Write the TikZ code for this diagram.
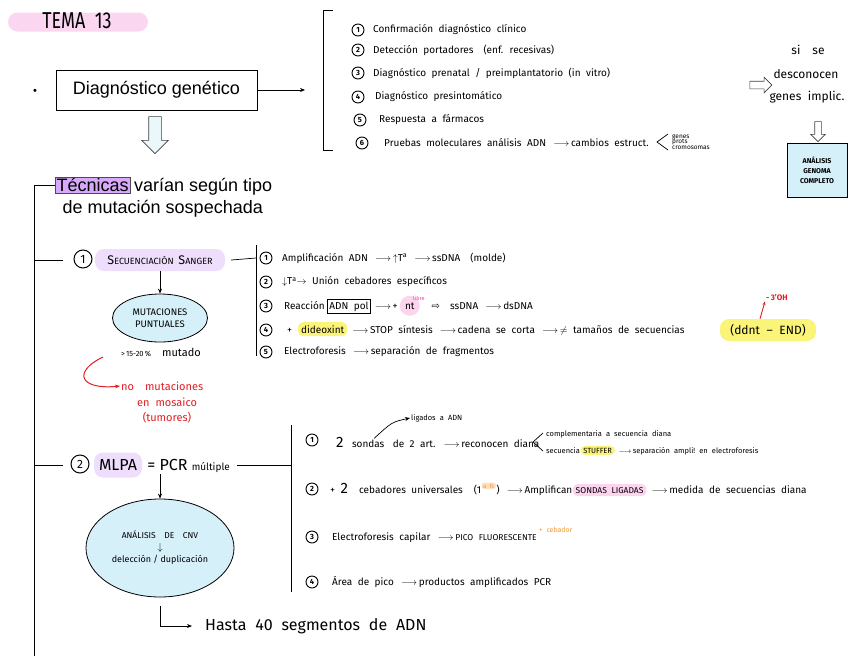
\documentclass[tikz,border=0pt]{standalone}
\usepackage{fontspec}
\setmainfont{Fira Sans}
\newfontfamily\typed{Liberation Sans}
\newfontfamily\sym{DejaVu Sans}
\usetikzlibrary{shapes.geometric,shapes.arrows,arrows.meta}
\definecolor{temapink}{RGB}{250,214,240}
\definecolor{lila}{RGB}{216,168,250}
\definecolor{lav}{RGB}{238,222,252}
\definecolor{lblue}{RGB}{214,240,250}
\definecolor{hlyellow}{RGB}{250,244,120}
\definecolor{hlpink}{RGB}{252,212,238}
\definecolor{hlorange}{RGB}{253,224,196}
\definecolor{nred}{RGB}{225,30,35}
\definecolor{norange}{RGB}{245,150,40}
\definecolor{npink}{RGB}{240,60,180}
\newcommand\hws[1]{\fontsize{#1}{#1}\selectfont\spaceskip=0.55em plus 0.2em minus 0.1em\relax}
\newcommand\hw{\hws{10}}
\newcommand\ra{\,$\longrightarrow$\,}
\begin{document}
\begin{tikzpicture}[x=1pt,y=-1pt,
  hw/.style={font=\hw, inner sep=1pt},
  ch/.style={anchor=base west, inner xsep=0pt, inner ysep=1pt, font=\hw},
  num/.style={circle, draw, line width=0.9pt, inner sep=0pt, minimum size=12, font=\fontsize{7.5}{7.5}\selectfont\bfseries},
  bignum/.style={circle, draw, line width=1pt, inner sep=0pt, minimum size=18, font=\fontsize{12}{12}\selectfont},
  ty/.style={font=\typed\fontsize{18}{21}\selectfont},
  hl/.style={ch, rounded corners=5pt, inner xsep=3pt, inner ysep=3pt},
  hollow/.style={single arrow, draw=black!75, line width=0.6pt},
  conn/.style={line width=0.7pt},
  conarrow/.style={conn, -{Stealth[length=5pt,width=4pt]}},
]
\useasboundingbox (0,0) rectangle (848,656);
% title
\node[fill=temapink, rounded corners=9.5pt, minimum width=140, minimum height=19, inner sep=0pt] (temabg) at (78,22) {};
\node[inner sep=0pt, font=\fontsize{23}{23}\selectfont] (tema) at (77,21) {\scalebox{0.78}[1]{TEMA\ \ 13}};
% diagnostico
\node[font=\typed\fontsize{11}{11}\selectfont, inner sep=0pt] (bul) at (35,92) {•};
\node[draw, line width=0.9pt, minimum width=201, minimum height=40, ty] (dg) at (156.5,90) {Diagnóstico genético};
\coordinate (dgend) at (305,90);
\draw[conarrow] (dg.east) -- (dgend);
\node[hollow, fill=lblue!50, shape border rotate=270, minimum height=37, inner sep=6pt, single arrow head extend=7pt] (dgarrow) at (155,132) {};
% bracket 1
\coordinate (b1a) at (333,10); \coordinate (b1b) at (333,150);
\draw[conn] (b1a) -- (323,10) -- (323,150) -- (b1b);
\node[num] (u1) at (358,30) {1};
\node[hw, anchor=west] (v1) at (372,30) {Confirmación diagnóstico clínico};
\node[num] (u2) at (358,50) {2};
\node[hw, anchor=west] (v2) at (372,50) {Detección portadores\quad(enf. recesivas)};
\node[num] (u3) at (358,73) {3};
\node[hw, anchor=west] (v3) at (372,73) {Diagnóstico prenatal / preimplantatorio (in vitro)};
\node[num] (u4) at (358,97) {4};
\node[hw, anchor=west] (v4) at (374,97) {Diagnóstico presintomático};
\node[num] (u5) at (360,120) {5};
\node[hw, anchor=west] (v5) at (378,120) {Respuesta a fármacos};
\node[num] (u6) at (362,143) {6};
\node[hw, anchor=west] (v6) at (383,143) {Pruebas moleculares análisis ADN \ra cambios estruct.};
\node[anchor=west, inner sep=0pt, align=left, font=\hws{6.5}] (gpc) at (672,142) {genes\\[-1pt]prots\\[-1pt]cromosomas};
\coordinate (ga) at (668,134); \coordinate (gb) at (657,142); \coordinate (gc) at (668,150);
\draw[conn] (ga) -- (gb) -- (gc);
% right side
\node[font=\hws{12}, inner sep=1pt] (si) at (808,50) {si\quad se};
\node[font=\hws{12}, inner sep=1pt] (desc) at (806,74) {desconocen};
\node[font=\hws{12}, inner sep=1pt] (gimp) at (807,97) {genes implic.};
\node[hollow, minimum height=22, inner sep=3.5pt, single arrow head extend=4pt] (rar) at (759,85) {};
\node[hollow, shape border rotate=270, minimum height=20, inner sep=3pt, single arrow head extend=4pt] (dar) at (818,130) {};
\node[draw, line width=0.8pt, fill=lblue, minimum width=60, minimum height=54, align=center, font=\fontsize{7}{10}\selectfont\bfseries] (agc) at (817,170) {ANÁLISIS\\GENOMA\\COMPLETO};
% tecnicas
\node[ty, fill=lila, draw=black!70, inner sep=1.5pt, anchor=west] (tec) at (55,185) {Técnicas};
\node[ty, inner sep=1.5pt, anchor=base west] (tec2) at ([xshift=2]tec.base east) {varían según tipo};
\node[ty, inner sep=1.5pt, anchor=west] (tec3) at (61,209) {de mutación sospechada};
\coordinate (lb) at (34,656);
\draw[conn] (tec.west) -| (lb);
% Sanger
\coordinate (s0) at (34,260); \coordinate (s1) at (63,260);
\draw[conn] (s0) -- (s1);
\node[bignum] (c1) at (83,259) {1};
\node[fill=lav, rounded corners=9pt, minimum width=130, minimum height=22, inner sep=0pt] (sanger) at (160,260) {\fontsize{12.5}{12}\selectfont S\fontsize{9}{9}\selectfont ECUENCIACIÓN\ \ \fontsize{12.5}{12}\selectfont S\fontsize{9}{9}\selectfont ANGER};
\coordinate (sbm) at (256,258);
\draw[conn] ([xshift=6]sanger.east) -- (sbm);
\coordinate (sbt) at (256,245); \coordinate (sbb) at (256,356);
\draw[conn] (sbt) -- (sbb);
\node[ellipse, draw, line width=0.8pt, fill=lblue, minimum width=95, minimum height=48, align=center, inner sep=0pt, font=\fontsize{9.5}{11.5}\selectfont] (mp) at (160,318) {MUTACIONES\\PUNTUALES};
\draw[conarrow] (sanger.south) -- (mp.north);
\node[font=\hws{11}, inner sep=1pt] (mut) at (161,352) {{\fontsize{7.5}{8}\selectfont >\,15-20\,\%}\quad mutado};
\node[font=\hws{11}, text=nred, anchor=west, inner sep=1pt] (nm1) at (120,386) {no\quad mutaciones};
\node[font=\hws{11}, text=nred, align=center, inner sep=1pt] (nm2) at (167,411) {en mosaico\\[4pt](tumores)};
\coordinate (rc) at (103,357);
\draw[nred, line width=1pt, -{Stealth[length=5pt]}] (rc) .. controls (72,372) and (80,390) .. (nm1.west);
% Sanger list
\node[num] (sn1) at (266,258) {1};
\node[hw, anchor=west] (st1) at (281,258) {Amplificación ADN \ra $\uparrow$T\textsuperscript{a} \ra ssDNA\quad(molde)};
\node[num] (sn2) at (266,282) {2};
\node[hw, anchor=west] (st2) at (281,282) {$\downarrow$T\textsuperscript{a}$\rightarrow$ Unión cebadores específicos};
\node[num] (sn3) at (266,306) {3};
\node[ch] (s3a) at (284,309) {Reacción\ };
\node[ch, draw, line width=0.9pt, inner xsep=2pt, inner ysep=2pt] (s3b) at ([xshift=2]s3a.base east) {ADN pol};
\node[ch] (s3c) at ([xshift=2]s3b.base east) {\ra+\,};
\node[ch, circle, fill=hlpink, inner sep=1pt, minimum size=20] (s3d) at (s3c.base east) {nt};
\node[font=\hws{5.5}, text=npink, inner sep=0pt, anchor=west] (s3s) at ([xshift=-4]s3d.north east) {libre};
\node[ch] (s3e) at ([xshift=6]s3d.base east) {\ {\sym ⇨}\quad ssDNA \ra dsDNA};
\node[num] (sn4) at (266,330) {4};
\node[ch] (s4a) at (287,333) {+\ \ };
\node[hl, fill=hlyellow] (s4b) at (s4a.base east) {dideoxint};
\node[ch] (s4c) at ([xshift=3]s4b.base east) {\ra STOP síntesis \ra cadena se corta \ra $\neq$ tamaños de secuencias};
\node[fill=hlyellow, rounded corners=9pt, minimum width=96, minimum height=22, inner sep=2pt, font=\hws{12}] (dd) at (768,330) {(ddnt -- END)};
\node[font=\hws{8}\bfseries, text=nred, inner sep=1pt] (oh) at (777,297) {-\,3'OH};
\draw[nred, line width=0.9pt, -{Stealth[length=4pt]}] ([xshift=-8]dd.north) .. controls (762,312) .. (oh.south west);
\node[num] (sn5) at (266,352) {5};
\node[hw, anchor=west] (st5) at (283,352) {Electroforesis \ra separación de fragmentos};
% MLPA
\coordinate (m0) at (34,465); \coordinate (m1) at (63,465);
\draw[conn] (m0) -- (m1);
\node[bignum] (c2) at (80,464) {2};
\node[fill=lav, rounded corners=9pt, minimum width=48, minimum height=25, inner sep=1pt, font=\fontsize{16}{16}\selectfont] (mlpa) at (118,465) {MLPA};
\node[anchor=base west, inner sep=1pt, font=\fontsize{16}{16}\selectfont] (pcr) at ([xshift=4]mlpa.base east) {= PCR {\fontsize{10}{10}\selectfont múltiple}};
\coordinate (mbm) at (291,465);
\coordinate (mpe) at (pcr.east |- mbm);
\draw[conn] (mpe) ++(6,0) -- (mbm);
\coordinate (mbt) at (291,425); \coordinate (mbb) at (291,592);
\draw[conn] (mbt) -- (mbb);
\node[ellipse, draw, line width=0.8pt, fill=lblue, minimum width=148, minimum height=98, align=center, inner sep=0pt] (cnv) at (160,548) {{\fontsize{8.5}{10}\selectfont ANÁLISIS\quad DE\quad CNV}\\$\downarrow$\\{\fontsize{9}{10}\selectfont delección / duplicación}};
\draw[conarrow] (pcr.south -| cnv.north) -- (cnv.north);
\node[anchor=west, inner sep=1pt, font=\hws{16}] (hasta) at (204,626) {Hasta 40 segmentos de ADN};
\coordinate (h0) at (160,606);
\draw[conarrow] (h0) |- ([xshift=-12]hasta.west);
% MLPA list
\node[num] (mn1) at (312,440) {1};
\node[ch, font=\hws{15}] (m1a) at (336,447) {2};
\node[ch] (m1b) at ([xshift=8]m1a.base east) {sondas};
\node[ch] (m1c) at ([xshift=8]m1b.base east) {de 2 art. \ra reconocen diana};
\node[anchor=west, inner sep=1pt, font=\hws{7.5}] (lig) at (410,418) {ligados a ADN};
\draw[conarrow] ([xshift=6]m1b.north) .. controls (392,422) .. (lig.west);
\node[ch, font=\hws{7.5}] (comp) at (546,436) {complementaria a secuencia diana};
\node[ch, font=\hws{7.5}] (sq) at (546,453) {secuencia\ };
\node[hl, fill=hlyellow, font=\hws{7.5}, inner ysep=2pt] (stf) at (sq.base east) {STUFFER};
\node[ch, font=\hws{7.5}] (sep) at ([xshift=2]stf.base east) {\ra separación ampli!\ en electroforesis};
\coordinate (la) at (543,433); \coordinate (lm) at (533,442); \coordinate (lc) at (543,451);
\draw[conn] (la) -- (lm) -- (lc);
\node[num] (mn2) at (312,489) {2};
\node[ch] (m2a) at (330,493) {+ {\fontsize{15}{15}\selectfont 2}\ \ cebadores universales\ \ (1};
\node[ch, fill=hlorange, text=norange, rounded corners=3pt, inner xsep=1.5pt, inner ysep=1pt, font=\hws{6}] (m2b) at ([yshift=5]m2a.base east) {a fc};
\node[ch] (m2c) at ([yshift=-5]m2b.base east) {)\ \ra Amplifican\ };
\node[hl, fill=hlpink, font=\hws{8.5}] (m2d) at (m2c.base east) {SONDAS LIGADAS};
\node[ch] (m2e) at ([xshift=3]m2d.base east) {\ra medida de secuencias diana};
\node[num] (mn3) at (312,537) {3};
\node[ch] (m3a) at (332,540) {Electroforesis capilar \ra {\fontsize{8.5}{9}\selectfont PICO FLUORESCENTE}};
\node[ch, text=norange, font=\hws{7}] (m3b) at ([xshift=2,yshift=8]m3a.base east) {+ cebador};
\node[num] (mn4) at (312,582) {4};
\node[ch] (m4a) at (332,585) {Área de pico \ra productos amplificados PCR};
\end{tikzpicture}
\end{document}
